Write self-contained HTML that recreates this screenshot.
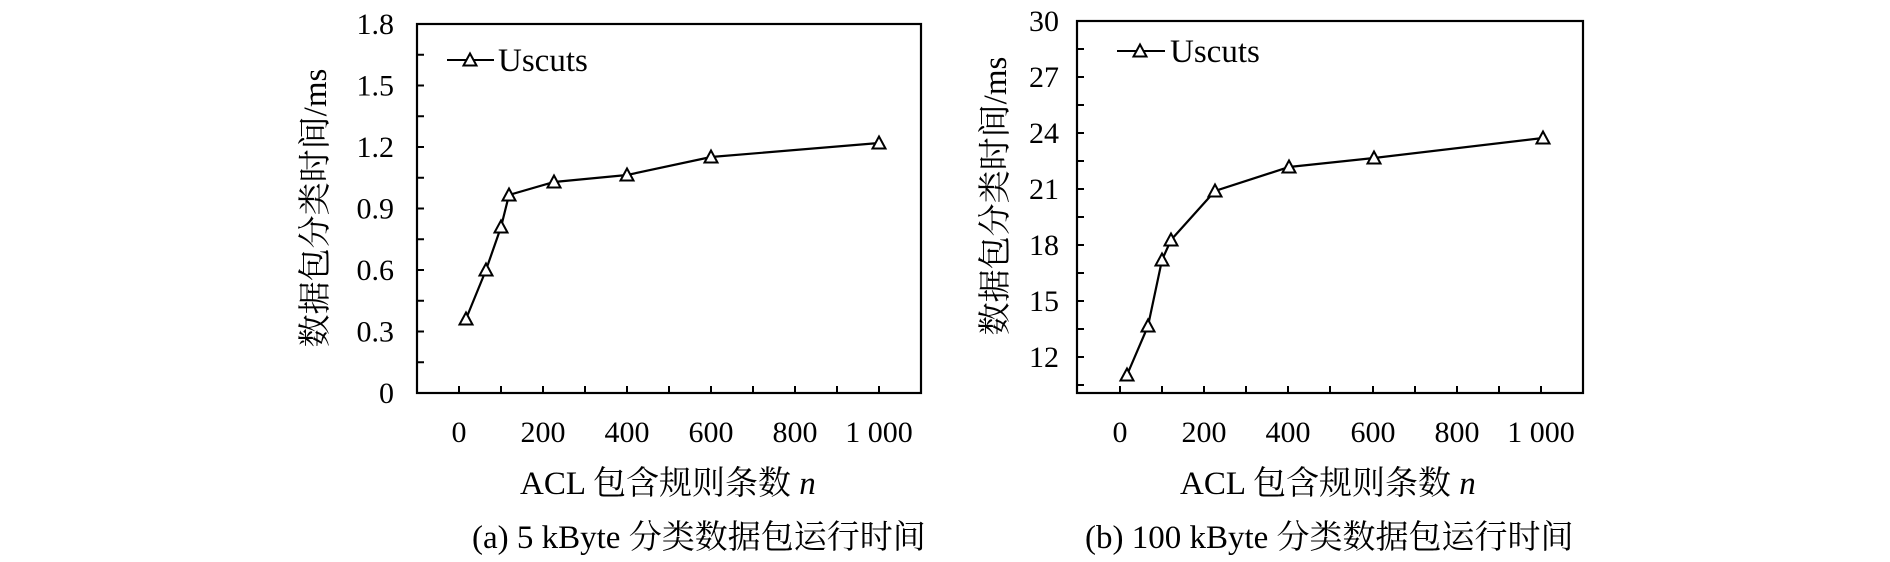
<!DOCTYPE html>
<html><head><meta charset="utf-8"><style>
html,body{margin:0;padding:0;background:#fff;}
svg{display:block;}
text{font-family:"Liberation Serif","Noto Serif CJK SC","Noto Sans CJK SC",serif;fill:#000;}
</style></head><body>
<svg width="1890" height="562" viewBox="0 0 1890 562" xmlns="http://www.w3.org/2000/svg">
<defs>
<path id="tri" d="M0,-6.5 L6.5,5.5 L-6.5,5.5 Z" fill="#fff" stroke="#000" stroke-width="2"/>
</defs>
<!-- Chart A -->
<g>
<rect x="417" y="24" width="504" height="369" fill="none" stroke="#000" stroke-width="2.2"/>
<g stroke="#000" stroke-width="2">
<line x1="417" y1="54.75" x2="424" y2="54.75"/><line x1="417" y1="85.5" x2="424" y2="85.5"/>
<line x1="417" y1="116.25" x2="424" y2="116.25"/><line x1="417" y1="147" x2="424" y2="147"/>
<line x1="417" y1="177.75" x2="424" y2="177.75"/><line x1="417" y1="208.5" x2="424" y2="208.5"/>
<line x1="417" y1="239.25" x2="424" y2="239.25"/><line x1="417" y1="270" x2="424" y2="270"/>
<line x1="417" y1="300.75" x2="424" y2="300.75"/><line x1="417" y1="331.5" x2="424" y2="331.5"/>
<line x1="417" y1="362.25" x2="424" y2="362.25"/>
<line x1="459" y1="393" x2="459" y2="386"/><line x1="501" y1="393" x2="501" y2="386"/>
<line x1="543" y1="393" x2="543" y2="386"/><line x1="585" y1="393" x2="585" y2="386"/>
<line x1="627" y1="393" x2="627" y2="386"/><line x1="669" y1="393" x2="669" y2="386"/>
<line x1="711" y1="393" x2="711" y2="386"/><line x1="753" y1="393" x2="753" y2="386"/>
<line x1="795" y1="393" x2="795" y2="386"/><line x1="837" y1="393" x2="837" y2="386"/>
<line x1="879" y1="393" x2="879" y2="386"/>
</g>
<g font-size="30" text-anchor="end">
<text x="394" y="34">1.8</text><text x="394" y="95.5">1.5</text><text x="394" y="157">1.2</text>
<text x="394" y="218.5">0.9</text><text x="394" y="280">0.6</text><text x="394" y="341.5">0.3</text>
<text x="394" y="403">0</text>
</g>
<g font-size="30" text-anchor="middle">
<text x="459" y="442">0</text><text x="543" y="442">200</text><text x="627" y="442">400</text>
<text x="711" y="442">600</text><text x="795" y="442">800</text><text x="879" y="442">1 000</text>
</g>
<text x="520" y="494" font-size="33">ACL 包含规则条数 <tspan font-style="italic">n</tspan></text>
<text x="472" y="548" font-size="33">(a) 5 kByte 分类数据包运行时间</text>
<text transform="translate(326,208) rotate(-90)" font-size="33" text-anchor="middle">数据包分类时间/ms</text>
<line x1="447" y1="60" x2="494" y2="60" stroke="#000" stroke-width="2"/>
<use href="#tri" x="470" y="60"/>
<text x="498" y="71" font-size="33">Uscuts</text>
<polyline fill="none" stroke="#000" stroke-width="2.2" points="466,319 486,270 501,227 509,195 554,182 627,175 711,157 879,143"/>
<use href="#tri" x="466" y="319"/><use href="#tri" x="486" y="270"/><use href="#tri" x="501" y="227"/>
<use href="#tri" x="509" y="195"/><use href="#tri" x="554" y="182"/><use href="#tri" x="627" y="175"/>
<use href="#tri" x="711" y="157"/><use href="#tri" x="879" y="143"/>
</g>
<!-- Chart B -->
<g>
<rect x="1077" y="21" width="506" height="372" fill="none" stroke="#000" stroke-width="2.2"/>
<g stroke="#000" stroke-width="2">
<line x1="1077" y1="49" x2="1084" y2="49"/><line x1="1077" y1="77" x2="1084" y2="77"/>
<line x1="1077" y1="105" x2="1084" y2="105"/><line x1="1077" y1="133" x2="1084" y2="133"/>
<line x1="1077" y1="161" x2="1084" y2="161"/><line x1="1077" y1="189" x2="1084" y2="189"/>
<line x1="1077" y1="217" x2="1084" y2="217"/><line x1="1077" y1="245" x2="1084" y2="245"/>
<line x1="1077" y1="273" x2="1084" y2="273"/><line x1="1077" y1="301" x2="1084" y2="301"/>
<line x1="1077" y1="329" x2="1084" y2="329"/><line x1="1077" y1="357" x2="1084" y2="357"/>
<line x1="1077" y1="385" x2="1084" y2="385"/>
<line x1="1120" y1="393" x2="1120" y2="386"/><line x1="1162" y1="393" x2="1162" y2="386"/>
<line x1="1204" y1="393" x2="1204" y2="386"/><line x1="1246" y1="393" x2="1246" y2="386"/>
<line x1="1288" y1="393" x2="1288" y2="386"/><line x1="1330" y1="393" x2="1330" y2="386"/>
<line x1="1373" y1="393" x2="1373" y2="386"/><line x1="1415" y1="393" x2="1415" y2="386"/>
<line x1="1457" y1="393" x2="1457" y2="386"/><line x1="1499" y1="393" x2="1499" y2="386"/>
<line x1="1541" y1="393" x2="1541" y2="386"/>
</g>
<g font-size="30" text-anchor="end">
<text x="1059" y="31">30</text><text x="1059" y="87">27</text><text x="1059" y="143">24</text>
<text x="1059" y="199">21</text><text x="1059" y="255">18</text><text x="1059" y="311">15</text>
<text x="1059" y="367">12</text>
</g>
<g font-size="30" text-anchor="middle">
<text x="1120" y="442">0</text><text x="1204" y="442">200</text><text x="1288" y="442">400</text>
<text x="1373" y="442">600</text><text x="1457" y="442">800</text><text x="1541" y="442">1 000</text>
</g>
<text x="1180" y="494" font-size="33">ACL 包含规则条数 <tspan font-style="italic">n</tspan></text>
<text x="1085" y="548" font-size="33">(b) 100 kByte 分类数据包运行时间</text>
<text transform="translate(1006,196) rotate(-90)" font-size="33" text-anchor="middle">数据包分类时间/ms</text>
<line x1="1117" y1="51" x2="1165" y2="51" stroke="#000" stroke-width="2"/>
<use href="#tri" x="1140" y="51"/>
<text x="1170" y="62" font-size="33">Uscuts</text>
<polyline fill="none" stroke="#000" stroke-width="2.2" points="1127,375 1148,326 1162,260 1171,240 1215,191 1289,167 1374,158 1543,138"/>
<use href="#tri" x="1127" y="375"/><use href="#tri" x="1148" y="326"/><use href="#tri" x="1162" y="260"/>
<use href="#tri" x="1171" y="240"/><use href="#tri" x="1215" y="191"/><use href="#tri" x="1289" y="167"/>
<use href="#tri" x="1374" y="158"/><use href="#tri" x="1543" y="138"/>
</g>
</svg>
</body></html>
